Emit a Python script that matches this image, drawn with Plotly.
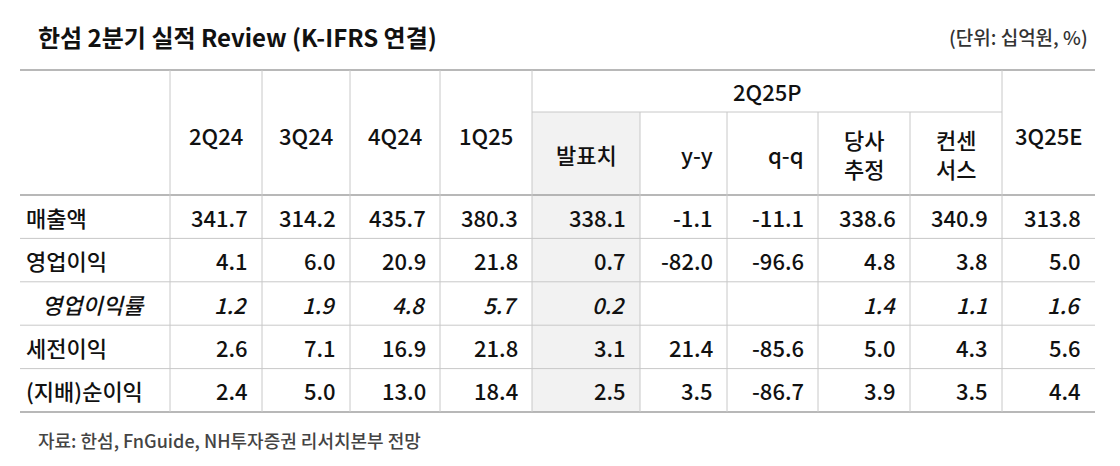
import plotly.graph_objects as go

title = "한섬 2분기 실적 Review (K-IFRS 연결)"
unit = "(단위: 십억원, %)"
source = "자료: 한섬, FnGuide, NH투자증권 리서치본부 전망"
top_cols = ["2Q24", "3Q24", "4Q24", "1Q25"]
group_label = "2Q25P"
sub_cols = ["발표치", "y-y", "q-q", "당사<br>추정", "컨센<br>서스"]
last_col = "3Q25E"
row_labels = ["매출액", "영업이익", "영업이익률", "세전이익", "(지배)순이익"]
row_italic = [False, False, True, False, False]
values = [
    ["341.7", "314.2", "435.7", "380.3", "338.1", "-1.1", "-11.1", "338.6", "340.9", "313.8"],
    ["4.1", "6.0", "20.9", "21.8", "0.7", "-82.0", "-96.6", "4.8", "3.8", "5.0"],
    ["1.2", "1.9", "4.8", "5.7", "0.2", "", "", "1.4", "1.1", "1.6"],
    ["2.6", "7.1", "16.9", "21.8", "3.1", "21.4", "-85.6", "5.0", "4.3", "5.6"],
    ["2.4", "5.0", "13.0", "18.4", "2.5", "3.5", "-86.7", "3.9", "3.5", "4.4"],
]

FONT = "Noto Sans CJK KR"
xb = [20, 170, 262, 350, 440, 532, 640, 727, 818, 910, 1002, 1095]
y_top, y_mid, y_hdr = 70, 112, 195
row_h = 43.4
yb = [y_hdr + i * row_h for i in range(len(row_labels) + 1)]
LINE = "#c8c8c8"

fig = go.Figure()
shapes = []
ann = []
shapes.append(dict(type="rect", x0=xb[5], x1=xb[6], y0=y_mid, y1=yb[-1], fillcolor="#f2f2f2", line_width=0, layer="below"))
shapes.append(dict(type="line", x0=xb[0], x1=xb[-1], y0=y_top, y1=y_top, line=dict(color="#a0a0a0", width=1.5)))
shapes.append(dict(type="line", x0=xb[5], x1=xb[10], y0=y_mid, y1=y_mid, line=dict(color=LINE, width=1)))
for i, y in enumerate(yb):
    w = 1.5 if i in (0, len(yb) - 1) else 1
    c = "#a0a0a0" if i in (0, len(yb) - 1) else LINE
    shapes.append(dict(type="line", x0=xb[0], x1=xb[-1], y0=y, y1=y, line=dict(color=c, width=w)))
for j in range(1, len(xb) - 1):
    y0 = y_mid if 6 <= j <= 9 else y_top
    shapes.append(dict(type="line", x0=xb[j], x1=xb[j], y0=y0, y1=yb[-1], line=dict(color=LINE, width=1)))

def txt(x, y, s, xa="center", size=22, bold=False, italic=False, color="#111"):
    ann.append(dict(x=x, y=y, text=s, xanchor=xa, yanchor="middle", showarrow=False,
                    font=dict(family=FONT, size=size, color=color, weight=700 if bold else 500,
                              style="italic" if italic else "normal")))

txt(36, 36, title, xa="left", size=24, bold=True)
txt(1090, 36, unit, xa="right", size=19, color="#333")
txt(36, 440, source, xa="left", size=18, color="#444")

hc = (y_top + y_hdr) / 2 + 2
for j, c in enumerate(top_cols):
    txt((xb[j + 1] + xb[j + 2]) / 2, hc, c)
txt((xb[10] + xb[11]) / 2, hc, last_col)
txt((xb[5] + xb[10]) / 2, (y_top + y_mid) / 2, group_label)
sc = (y_mid + y_hdr) / 2
for j, c in enumerate(sub_cols):
    x0, x1 = xb[5 + j], xb[6 + j]
    if j in (1, 2):
        txt(x1 - 12, sc, c, xa="right")
    else:
        txt((x0 + x1) / 2, sc, c)

for i, lab in enumerate(row_labels):
    yc = (yb[i] + yb[i + 1]) / 2
    it = row_italic[i]
    txt(xb[0] + (20 if it else 4), yc, lab, xa="left", italic=it)
    for j, v in enumerate(values[i]):
        txt(xb[j + 2] - 12, yc, v, xa="right", italic=it)

# page body has an 8px margin; offset axis ranges so coordinates match the window
fig.update_layout(width=1120, height=466, margin=dict(l=0, r=0, t=0, b=0),
                  paper_bgcolor="white", plot_bgcolor="white",
                  xaxis=dict(range=[8, 1128], visible=False, fixedrange=True),
                  yaxis=dict(range=[474, 8], visible=False, fixedrange=True),
                  shapes=shapes, annotations=ann, showlegend=False)
fig.write_html("out.html")
